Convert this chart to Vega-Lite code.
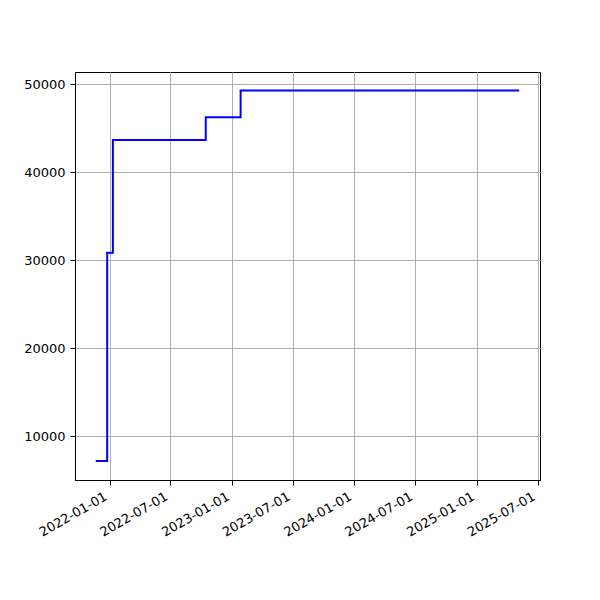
{
  "$schema": "https://vega.github.io/schema/vega-lite/v6.json",
  "autosize": "none",
  "width": 465,
  "height": 408,
  "padding": {"left": 75, "top": 72, "right": 60, "bottom": 120},
  "background": "white",
  "data": {
    "values": [
      {"date": "2021-11-21", "value": 7200},
      {"date": "2021-12-25", "value": 30860},
      {"date": "2022-01-11", "value": 43670},
      {"date": "2022-10-15", "value": 46250},
      {"date": "2023-01-27", "value": 49300},
      {"date": "2025-05-07", "value": 49300}
    ]
  },
  "mark": {"type": "line", "interpolate": "step-after", "color": "#0000ff", "strokeWidth": 2, "clip": true},
  "encoding": {
    "x": {
      "field": "date",
      "type": "temporal",
      "scale": {"type": "utc", "domain": [{"year": 2021, "month": 9, "date": 20, "utc": true}, {"year": 2025, "month": 7, "date": 8, "utc": true}]},
      "axis": {
        "title": null,
        "values": [
          {"year": 2022, "month": 1, "date": 1, "utc": true},
          {"year": 2022, "month": 7, "date": 1, "utc": true},
          {"year": 2023, "month": 1, "date": 1, "utc": true},
          {"year": 2023, "month": 7, "date": 1, "utc": true},
          {"year": 2024, "month": 1, "date": 1, "utc": true},
          {"year": 2024, "month": 7, "date": 1, "utc": true},
          {"year": 2025, "month": 1, "date": 1, "utc": true},
          {"year": 2025, "month": 7, "date": 1, "utc": true}
        ],
        "labelExpr": "utcFormat(datum.value, '%Y-%m-%d')",
        "labelAngle": -30,
        "labelAlign": "right",
        "labelBaseline": "top",
        "labelPadding": 5,
        "labelOffset": -7,
        "labelOverlap": false,
        "labelFlush": false
      }
    },
    "y": {
      "field": "value",
      "type": "quantitative",
      "scale": {"domain": [5036, 51400], "nice": false, "zero": false},
      "axis": {
        "title": null,
        "values": [10000, 20000, 30000, 40000, 50000],
        "format": "d",
        "labelPadding": 5
      }
    }
  },
  "config": {
    "view": {"stroke": "black", "strokeWidth": 1},
    "axis": {
      "domainColor": "black",
      "domainWidth": 1,
      "tickColor": "black",
      "tickSize": 5,
      "tickWidth": 1,
      "grid": true,
      "gridColor": "#b0b0b0",
      "gridWidth": 1,
      "labelFont": "DejaVu Sans",
      "labelFontSize": 13,
      "labelColor": "black"
    }
  }
}
